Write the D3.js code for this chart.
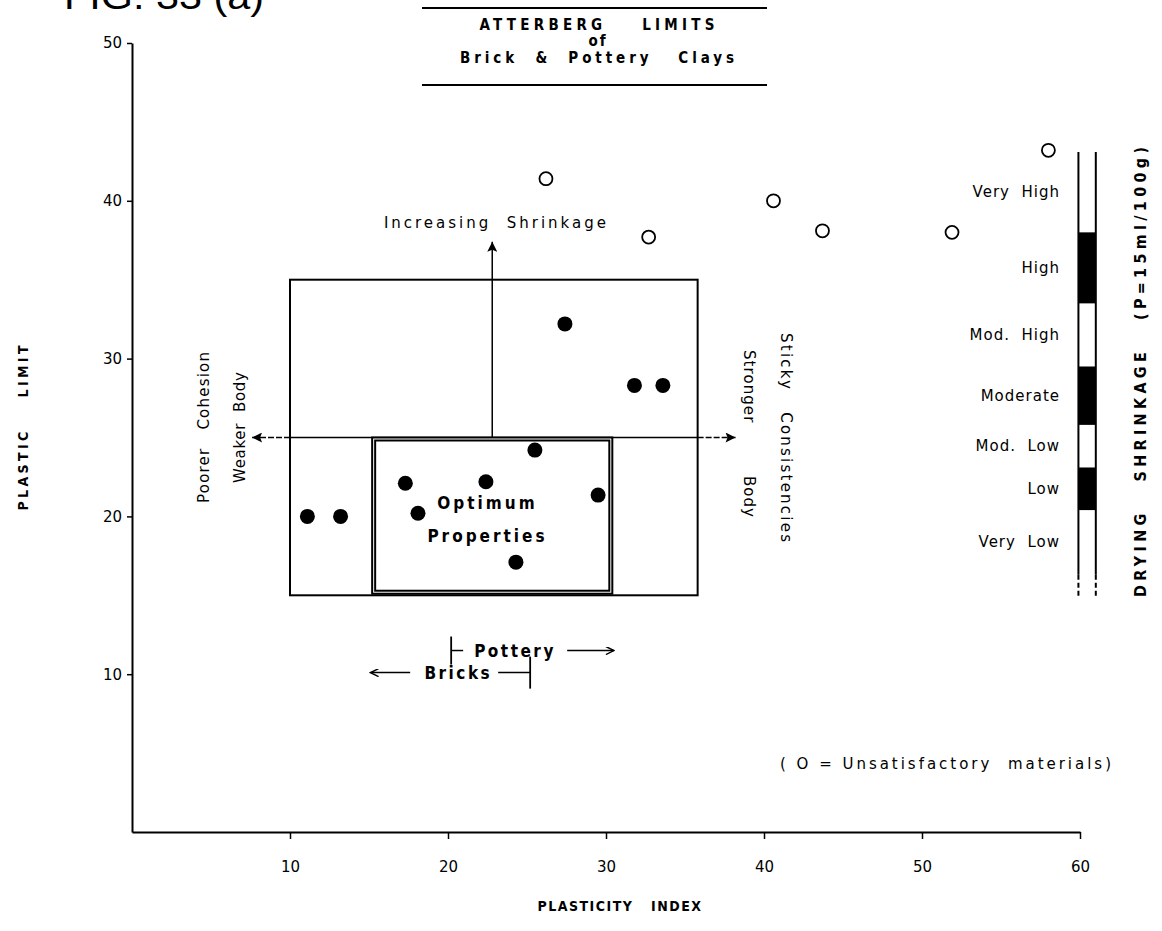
<!DOCTYPE html>
<html>
<head>
<meta charset="utf-8">
<script src="https://cdn.jsdelivr.net/npm/d3@7"></script>
<style>
  body { margin: 0; background: #fff; }
  svg { display: block; }
  text { fill: #000; white-space: pre; }
  .lbl { font-family: "DejaVu Sans", sans-serif; font-size: 15px; letter-spacing: 1px; }
  .bold { font-family: "DejaVu Sans Condensed", "DejaVu Sans", sans-serif; font-weight: bold; }
</style>
</head>
<body>
<svg id="chart" width="1162" height="931"></svg>
<script>
// axis ticks
const xTicks = [10, 20, 30, 40, 50, 60];
const yTicks = [10, 20, 30, 40, 50];

// [plasticity index, plastic limit]
const goodClays = [
  [11.1, 20.0], [13.2, 20.0], [17.3, 22.1], [18.1, 20.2], [22.4, 22.2],
  [25.5, 24.2], [24.3, 17.1], [29.5, 21.35], [27.4, 32.2], [31.8, 28.3], [33.6, 28.3]
];
const badClays = [
  [26.2, 41.4], [32.7, 37.7], [40.6, 40.0], [43.7, 38.1], [51.9, 38.0], [58.0, 43.2]
];

// drying shrinkage scale, band edges in plastic-limit units
const shrinkLabels = ['Very High', 'High', 'Mod. High', 'Moderate', 'Mod. Low', 'Low', 'Very Low'];
const shrinkBreaks = [43.1, 38.0, 33.5, 29.5, 25.8, 23.1, 20.4, 16.3];
const shrinkDashEnd = 14.9;
const shrinkBarX = [59.9, 61.0];

// regions [x0, x1, y0, y1]
const outerBox = [10, 35.8, 15, 35];
const optimumBox = [15.2, 30.4, 15.1, 25];
const cross = { x: 22.8, y: 25, top: 37.4, left: 7.6, right: 38.2 };
const pottery = { from: 20.2, to: 30.5, y: 11.5 };
const bricks = { from: 25.2, to: 15.1, y: 10.1 };

const svg = d3.select('#chart');
const x = d3.scaleLinear().domain([0, 60]).range([132, 1080]);
const y = d3.scaleLinear().domain([0, 50]).range([832, 43]);

// arrow heads
const defs = svg.append('defs');
defs.append('marker').attr('id', 'solidHead')
  .attr('viewBox', '0 0 10 10').attr('refX', 10).attr('refY', 5)
  .attr('markerWidth', 12).attr('markerHeight', 10)
  .attr('markerUnits', 'userSpaceOnUse').attr('orient', 'auto')
  .append('path').attr('d', 'M0,0L10,5L0,10L2,5Z').attr('fill', '#000');
defs.append('marker').attr('id', 'openHead')
  .attr('viewBox', '0 0 10 10').attr('refX', 10).attr('refY', 5)
  .attr('markerWidth', 11).attr('markerHeight', 8)
  .attr('markerUnits', 'userSpaceOnUse').attr('orient', 'auto')
  .append('path').attr('d', 'M0,0L10,5L0,10').attr('fill', 'none')
  .attr('stroke', '#000').attr('stroke-width', 1.8);

// figure title, cut by the top edge as in the scan
svg.append('text').attr('x', 64).attr('y', 9)
  .attr('font-family', 'Liberation Sans, Arial, sans-serif').attr('font-size', 36)
  .attr('textLength', 200).attr('lengthAdjust', 'spacingAndGlyphs')
  .text('FIG. 33 (a)');

// title box
[8, 85].forEach(ly => {
  svg.append('line').attr('x1', 422).attr('x2', 767).attr('y1', ly).attr('y2', ly)
    .attr('stroke', '#000').attr('stroke-width', 2);
});
const titleLines = [['ATTERBERG    LIMITS', 30, 237], ['of', 46, 0], ['Brick  &  Pottery   Clays', 63, 276]];
titleLines.forEach(([t, ty, w]) => {
  const el = svg.append('text').attr('class', 'bold').attr('x', 598).attr('y', ty)
    .attr('text-anchor', 'middle').attr('font-size', 15).attr('letter-spacing', 2).text(t);
  if (w) el.attr('textLength', w).attr('lengthAdjust', 'spacing');
});

// axes
const xAxis = svg.append('g').attr('transform', `translate(0,${y(0)})`)
  .call(d3.axisBottom(x).tickValues(xTicks).tickSize(7).tickSizeOuter(0).tickPadding(22));
const yAxis = svg.append('g').attr('transform', `translate(${x(0)},0)`)
  .call(d3.axisLeft(y).tickValues(yTicks).tickSize(5).tickSizeOuter(0).tickPadding(5));
[xAxis, yAxis].forEach(g => {
  g.select('.domain').attr('stroke-width', 2);
  g.selectAll('.tick line').attr('stroke-width', 1.5);
  g.selectAll('.tick text').attr('font-family', 'DejaVu Sans, sans-serif').attr('font-size', 15);
});

svg.append('text').attr('class', 'bold').attr('x', 620).attr('y', 911)
  .attr('text-anchor', 'middle').attr('font-size', 14).attr('letter-spacing', 1.5)
  .text('PLASTICITY   INDEX');
svg.append('text').attr('class', 'bold')
  .attr('transform', `translate(28,428) rotate(-90)`)
  .attr('text-anchor', 'middle').attr('font-size', 14)
  .attr('textLength', 165).attr('lengthAdjust', 'spacing').text('PLASTIC    LIMIT');

// outer box and optimum box
const box = (b, inset, sw) => svg.append('rect')
  .attr('x', x(b[0]) + inset).attr('y', y(b[3]) + inset)
  .attr('width', x(b[1]) - x(b[0]) - 2 * inset).attr('height', y(b[2]) - y(b[3]) - 2 * inset)
  .attr('fill', 'none').attr('stroke', '#000').attr('stroke-width', sw);

// cross lines
svg.append('line')
  .attr('x1', x(cross.x)).attr('x2', x(cross.x)).attr('y1', y(cross.y)).attr('y2', y(cross.top))
  .attr('stroke', '#000').attr('stroke-width', 1.5).attr('marker-end', 'url(#solidHead)');
svg.append('line')
  .attr('x1', x(outerBox[0])).attr('x2', x(cross.left)).attr('y1', y(cross.y)).attr('y2', y(cross.y))
  .attr('stroke', '#000').attr('stroke-width', 1.5).attr('stroke-dasharray', '6,2')
  .attr('marker-end', 'url(#solidHead)');
svg.append('line')
  .attr('x1', x(outerBox[1])).attr('x2', x(cross.right)).attr('y1', y(cross.y)).attr('y2', y(cross.y))
  .attr('stroke', '#000').attr('stroke-width', 1.5).attr('stroke-dasharray', '6,2')
  .attr('marker-end', 'url(#solidHead)');
svg.append('line')
  .attr('x1', x(outerBox[0])).attr('x2', x(outerBox[1])).attr('y1', y(cross.y)).attr('y2', y(cross.y))
  .attr('stroke', '#000').attr('stroke-width', 1.5);

box(outerBox, 0, 2);
svg.append('rect')
  .attr('x', x(optimumBox[0])).attr('y', y(optimumBox[3]))
  .attr('width', x(optimumBox[1]) - x(optimumBox[0])).attr('height', y(optimumBox[2]) - y(optimumBox[3]))
  .attr('fill', '#fff');
box(optimumBox, 0, 2);
box(optimumBox, 3, 2);

svg.append('text').attr('class', 'bold').attr('x', x(22.5)).attr('y', y(20.5))
  .attr('text-anchor', 'middle').attr('font-size', 17).attr('letter-spacing', 3).text('Optimum');
svg.append('text').attr('class', 'bold').attr('x', x(22.5)).attr('y', y(18.4))
  .attr('text-anchor', 'middle').attr('font-size', 17).attr('letter-spacing', 3).text('Properties');

// annotation text
svg.append('text').attr('class', 'lbl').attr('x', x(23.0)).attr('y', y(38.3))
  .attr('text-anchor', 'middle').attr('textLength', 223).attr('lengthAdjust', 'spacing')
  .text('Increasing  Shrinkage');
svg.append('text').attr('class', 'lbl').attr('transform', 'translate(209,427) rotate(-90)')
  .attr('text-anchor', 'middle').attr('textLength', 152).attr('lengthAdjust', 'spacing')
  .text('Poorer   Cohesion');
svg.append('text').attr('class', 'lbl').attr('transform', 'translate(245,427) rotate(-90)')
  .attr('text-anchor', 'middle').attr('textLength', 112).attr('lengthAdjust', 'spacing')
  .text('Weaker  Body');
svg.append('text').attr('class', 'lbl').attr('transform', 'translate(781,438) rotate(90)')
  .attr('text-anchor', 'middle').attr('textLength', 210).attr('lengthAdjust', 'spacing')
  .text('Sticky   Consistencies');
svg.append('text').attr('class', 'lbl').attr('transform', 'translate(744,434) rotate(90)')
  .attr('text-anchor', 'middle').attr('textLength', 168).attr('lengthAdjust', 'spacing')
  .text('Stronger         Body');

// pottery / bricks ranges
const potY = y(pottery.y);
svg.append('line').attr('x1', x(pottery.from)).attr('x2', x(pottery.from))
  .attr('y1', potY - 14).attr('y2', potY + 14).attr('stroke', '#000').attr('stroke-width', 1.8);
svg.append('line').attr('x1', x(pottery.from)).attr('x2', x(pottery.from) + 12)
  .attr('y1', potY).attr('y2', potY).attr('stroke', '#000').attr('stroke-width', 1.5);
svg.append('text').attr('class', 'bold').attr('x', x(pottery.from) + 23).attr('y', potY + 6)
  .attr('font-size', 17).attr('letter-spacing', 2.5).text('Pottery');
svg.append('line').attr('x1', x(pottery.from) + 116).attr('x2', x(pottery.to))
  .attr('y1', potY).attr('y2', potY).attr('stroke', '#000').attr('stroke-width', 1.5)
  .attr('marker-end', 'url(#openHead)');

const brY = y(bricks.y);
svg.append('line').attr('x1', x(bricks.from)).attr('x2', x(bricks.from))
  .attr('y1', brY - 16).attr('y2', brY + 16).attr('stroke', '#000').attr('stroke-width', 1.8);
svg.append('line').attr('x1', x(bricks.from)).attr('x2', x(bricks.from) - 32)
  .attr('y1', brY).attr('y2', brY).attr('stroke', '#000').attr('stroke-width', 1.5);
svg.append('text').attr('class', 'bold').attr('x', x(bricks.from) - 38).attr('y', brY + 6)
  .attr('text-anchor', 'end').attr('font-size', 17).attr('letter-spacing', 2.5).text('Bricks');
svg.append('line').attr('x1', x(bricks.from) - 120).attr('x2', x(bricks.to))
  .attr('y1', brY).attr('y2', brY).attr('stroke', '#000').attr('stroke-width', 1.5)
  .attr('marker-end', 'url(#openHead)');

// points
svg.append('g').selectAll('circle').data(goodClays).join('circle')
  .attr('cx', d => x(d[0])).attr('cy', d => y(d[1])).attr('r', 7.5).attr('fill', '#000');
svg.append('g').selectAll('circle').data(badClays).join('circle')
  .attr('cx', d => x(d[0])).attr('cy', d => y(d[1])).attr('r', 6.5)
  .attr('fill', 'none').attr('stroke', '#000').attr('stroke-width', 1.8);

// drying shrinkage bar
const bands = shrinkLabels.map((label, i) => ({ label, top: shrinkBreaks[i], bottom: shrinkBreaks[i + 1], i }));
svg.append('g').selectAll('rect').data(bands.filter(d => d.i % 2 === 1)).join('rect')
  .attr('x', x(shrinkBarX[0])).attr('width', x(shrinkBarX[1]) - x(shrinkBarX[0]))
  .attr('y', d => y(d.top)).attr('height', d => y(d.bottom) - y(d.top)).attr('fill', '#000');
shrinkBarX.forEach(v => {
  svg.append('line').attr('x1', x(v)).attr('x2', x(v))
    .attr('y1', y(shrinkBreaks[0])).attr('y2', y(shrinkBreaks[shrinkBreaks.length - 1]))
    .attr('stroke', '#000').attr('stroke-width', 2);
  svg.append('line').attr('x1', x(v)).attr('x2', x(v))
    .attr('y1', y(shrinkBreaks[shrinkBreaks.length - 1])).attr('y2', y(shrinkDashEnd))
    .attr('stroke', '#000').attr('stroke-width', 2).attr('stroke-dasharray', '5,3');
});
svg.append('g').selectAll('text').data(bands).join('text').attr('class', 'lbl')
  .attr('x', 1060).attr('y', d => (y(d.top) + y(d.bottom)) / 2 + 5)
  .attr('text-anchor', 'end').text(d => d.label.replace(' ', '  '));

svg.append('text').attr('class', 'bold')
  .attr('transform', 'translate(1146,372) rotate(-90)')
  .attr('text-anchor', 'middle').attr('font-size', 16)
  .attr('textLength', 450).attr('lengthAdjust', 'spacing')
  .text('DRYING   SHRINKAGE   (P=15ml/100g)');

// legend note
svg.append('text').attr('class', 'lbl').attr('x', 780).attr('y', 769)
  .attr('textLength', 332).attr('lengthAdjust', 'spacing')
  .text('( O = Unsatisfactory  materials)');
</script>
</body>
</html>
